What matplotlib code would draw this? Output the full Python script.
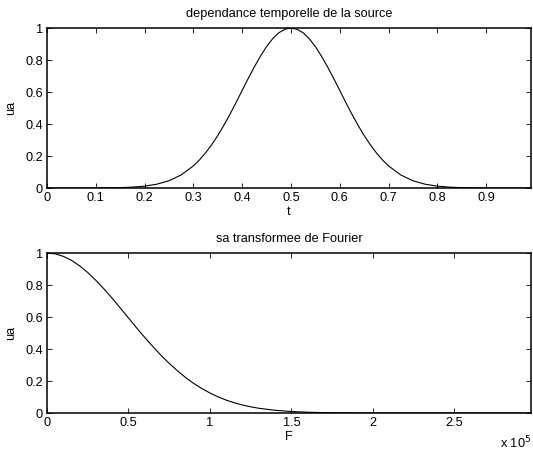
import numpy as np
import matplotlib
matplotlib.use('Agg')
import matplotlib.pyplot as plt

plt.rcParams['font.family'] = ['Liberation Sans', 'DejaVu Sans']
plt.rcParams['font.size'] = 9.2

# source time dependence
t = [0.0, 0.025, 0.05, 0.075, 0.1, 0.125, 0.15, 0.175, 0.2, 0.225,
     0.25, 0.275, 0.3, 0.3125, 0.325, 0.3375, 0.35, 0.3625, 0.375, 0.3875,
     0.4, 0.4125, 0.425, 0.4375, 0.45, 0.4625, 0.475, 0.4875, 0.5, 0.5125,
     0.525, 0.5375, 0.55, 0.5625, 0.575, 0.5875, 0.6, 0.6125, 0.625, 0.6375,
     0.65, 0.6625, 0.675, 0.6875, 0.7, 0.725, 0.75, 0.775, 0.8, 0.825,
     0.85, 0.875, 0.9, 0.925, 0.95, 0.975, 0.992]
ua_t = [0.0, 0.0, 0.0, 0.0001, 0.0004, 0.001, 0.0023, 0.0054, 0.0116, 0.0237,
        0.0453, 0.0816, 0.138, 0.1755, 0.220, 0.2706, 0.328, 0.392, 0.461, 0.534,
        0.610, 0.685, 0.757, 0.824, 0.884, 0.933, 0.970, 0.992, 1.0, 0.992,
        0.970, 0.933, 0.884, 0.824, 0.757, 0.685, 0.610, 0.534, 0.461, 0.392,
        0.328, 0.2706, 0.220, 0.1755, 0.138, 0.0816, 0.0453, 0.0237, 0.0116, 0.0054,
        0.0023, 0.001, 0.0004, 0.0001, 0.0, 0.0, 0.0]

# its Fourier transform (x 10^5)
F = [0.0, 0.05, 0.1, 0.15, 0.2, 0.25, 0.3, 0.35, 0.4, 0.45,
     0.5, 0.55, 0.6, 0.65, 0.7, 0.75, 0.8, 0.85, 0.9, 0.95,
     1.0, 1.05, 1.1, 1.15, 1.2, 1.25, 1.3, 1.4, 1.5, 1.6,
     1.7, 1.8, 1.9, 2.0, 2.5, 2.97]
ua_F = [1.0, 0.995, 0.979, 0.954, 0.920, 0.878, 0.829, 0.775, 0.717, 0.656,
        0.594, 0.532, 0.472, 0.415, 0.360, 0.310, 0.264, 0.222, 0.185, 0.153,
        0.125, 0.1006, 0.0804, 0.0636, 0.0498, 0.0386, 0.0296, 0.0169, 0.0092, 0.0048,
        0.0024, 0.0012, 0.0005, 0.0002, 0.0, 0.0]

fig = plt.figure(figsize=(5.33, 4.58), dpi=100)
ax1 = fig.add_axes([47/533, 1-188/458, (531-47)/533, 160/458])
ax2 = fig.add_axes([47/533, 1-413/458, (531-47)/533, 160/458])

ax1.plot(t, ua_t, color='black', linewidth=0.8)
ax1.set_xlim(0, 0.992)
ax1.set_xticks(np.arange(0, 1.0, 0.1))
ax1.set_xticklabels(['0', '0.1', '0.2', '0.3', '0.4', '0.5', '0.6', '0.7', '0.8', '0.9'])
ax1.set_title('dependance temporelle de la source', fontsize=9.2, pad=8)
ax1.set_xlabel('t', labelpad=1)

ax2.plot(F, ua_F, color='black', linewidth=0.8)
ax2.set_xlim(0, 2.97)
ax2.set_xticks([0, 0.5, 1, 1.5, 2, 2.5])
ax2.set_xticklabels(['0', '0.5', '1', '1.5', '2', '2.5'])
ax2.set_title('sa transformee de Fourier', fontsize=9.2, pad=8)
ax2.set_xlabel('F', labelpad=1)
ax2.text(0.935, -0.19, 'x 10$^5$', transform=ax2.transAxes, ha='left', va='center', fontsize=9.2)

for ax in (ax1, ax2):
    ax.set_ylim(0, 1)
    ax.set_yticks([0, 0.2, 0.4, 0.6, 0.8, 1])
    ax.set_yticklabels(['0', '0.2', '0.4', '0.6', '0.8', '1'])
    ax.set_ylabel('ua', labelpad=6)
    ax.tick_params(direction='in', top=True, right=True, length=3.6, width=0.6, pad=3)
    for s in ax.spines.values():
        s.set_linewidth(1.1)

fig.savefig('out.png', dpi=100)
